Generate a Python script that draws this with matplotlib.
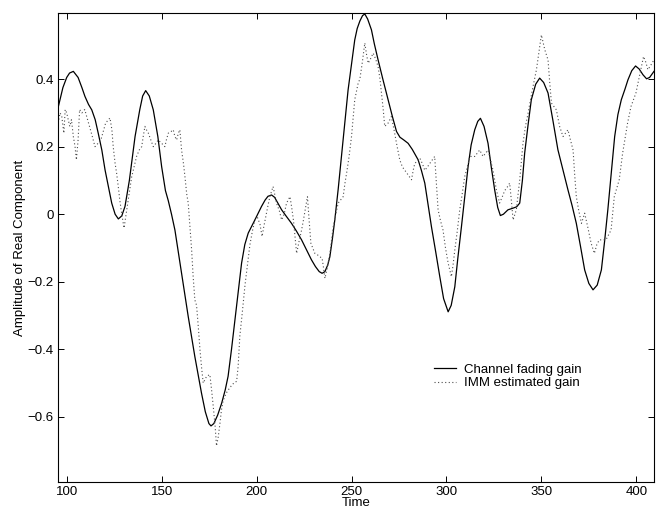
import numpy as np
import matplotlib
matplotlib.use('Agg')
import matplotlib.pyplot as plt

plt.rcParams['font.family'] = ['Liberation Sans', 'DejaVu Sans']
plt.rcParams['font.size'] = 9.5

## channel fading gain (solid)
t_true = [95.4, 98, 100, 101.5, 103.5, 106, 108, 109.6, 111.5, 113.2, 115, 116.6, 118.5,
          120.2, 122, 123.7, 125.5, 127.2, 129, 130.7, 133, 136, 138.5, 140, 141.6, 143.5,
          145.6, 148, 150, 152, 153.5, 155.2, 157, 160.5, 164, 167.5, 171, 173, 174.9, 176,
          177.5, 179.5, 181.6, 183.5, 185, 186.8, 188.6, 190.3, 192.1, 193.8, 195.6, 197.5,
          199.1, 201, 202.6, 204.5, 206, 207.9, 209.5, 211, 213.2, 215.5, 218.4, 221, 223.7,
          226.5, 228.9, 231, 233, 234.5, 236, 237.5, 238.6, 240, 241.2, 243, 244.7, 246.5,
          248.2, 250, 251.7, 253, 254.4, 255.8, 257, 258.5, 260.5, 262, 264, 266.5, 269.3,
          271.5, 273.7, 275.5, 277.5, 279.8, 282, 285.1, 286.8, 288.6, 290.3, 292.1, 294.3,
          296.5, 298.5, 300.9, 302.5, 304.4, 306, 307.9, 309.6, 311.4, 313, 314.9, 316.5,
          317.9, 319.8, 321.9, 323.6, 325.4, 327, 328.4, 330, 332.4, 335.1, 337, 338.6, 340,
          341.2, 343, 344.7, 347, 349.1, 351.2, 353.5, 356, 358.7, 361.4, 364, 366.2, 368.4,
          370.6, 372.8, 375, 377.2, 379.4, 381.6, 383.3, 385, 386.8, 388.6, 390.3, 392.1, 394,
          395.6, 397.6, 399.6, 401.5, 403.5, 405.4, 407, 409.3]
v_true = [0.314, 0.375, 0.405, 0.418, 0.423, 0.405, 0.375, 0.349, 0.325, 0.309, 0.28, 0.24, 0.19,
          0.131, 0.08, 0.033, 0.0, -0.014, -0.005, 0.023, 0.10, 0.23, 0.31, 0.35, 0.366, 0.35,
          0.309, 0.23, 0.141, 0.07, 0.04, 0.0, -0.047, -0.175, -0.303, -0.422, -0.53, -0.585, -0.62, -0.627,
          -0.62, -0.595, -0.56, -0.52, -0.48, -0.40, -0.313, -0.23, -0.145, -0.09, -0.056, -0.035,
          -0.017, 0.005, 0.023, 0.042, 0.053, 0.057, 0.05, 0.035, 0.013, -0.005, -0.027, -0.05, -0.076,
          -0.108, -0.135, -0.155, -0.17, -0.175, -0.17, -0.15, -0.126, -0.07, -0.017, 0.075, 0.171, 0.27,
          0.368, 0.445, 0.516, 0.55, 0.572, 0.588, 0.593, 0.578, 0.546, 0.505, 0.457, 0.40, 0.339,
          0.29, 0.245, 0.228, 0.22, 0.21, 0.192, 0.161, 0.13, 0.092, 0.03, -0.037, -0.11,
          -0.185, -0.25, -0.289, -0.27, -0.215, -0.13, -0.037, 0.05, 0.141, 0.205, 0.25, 0.275,
          0.284, 0.26, 0.21, 0.14, 0.072, 0.02, -0.004, 0.0, 0.013, 0.018, 0.022, 0.033, 0.10,
          0.181, 0.265, 0.339, 0.385, 0.403, 0.39, 0.359, 0.28, 0.191, 0.13, 0.072, 0.025, -0.027,
          -0.095, -0.165, -0.205, -0.224, -0.21, -0.165, -0.08, 0.013, 0.12, 0.23, 0.295, 0.339, 0.37,
          0.398, 0.425, 0.439, 0.43, 0.413, 0.401, 0.405, 0.423]

## IMM estimated gain (dotted)
t_est = [95.5, 96.5, 97.4, 98.5, 99.2, 100, 101.6, 102.5, 103.5, 104.4, 105.1, 106, 106.8, 108,
         109.5, 110.5, 112, 113.5, 114.9, 116.5, 118, 119.5, 120.5, 122, 122.8, 123.8, 124.5,
         125.5, 126.3, 127.2, 128, 129, 130.2, 131.3, 132.4, 134.2, 135.5, 136.8, 138.2, 139.5,
         140.3, 141.2, 142, 143, 144.3, 145.6, 147, 148.2, 150, 151.7, 152.5, 153.5, 155, 156.1,
         157, 157.9, 158.8, 159.6, 160.5, 161.5, 162.3, 163.2, 164, 164.9, 165.8, 166.6, 167.5,
         168.4, 169.3, 170.2, 171, 171.9, 173.7, 175.4, 176.3, 177.2, 178.2, 178.9, 179.8, 180.7,
         181.5, 182.4, 184, 186, 188, 189.5, 190.3, 191.2, 192.5, 193.9, 195.2, 196.5, 197.8,
         199.1, 200.5, 201.8, 202.9, 203.7, 204.5, 205.8, 207, 208.7, 209.5, 210.5, 212, 213.2,
         214.5, 215.8, 217.6, 218.5, 219.4, 220.3, 221.1, 222.4, 223.7, 224.6, 225.6, 226.8,
         227.7, 228.6, 230.7, 232, 233.3, 234.5, 235.3, 236, 237.2, 238.5, 240.4, 241.7, 243,
         245.6, 246.5, 247.4, 248.7, 250, 250.8, 251.7, 253.5, 254.4, 255.7, 257, 258, 258.8,
         260, 261.4, 262.7, 264, 265, 265.8, 266.7, 267.5, 269.3, 271, 272.4, 273.7, 275.4,
         276.8, 278.1, 280, 281.6, 282.5, 283.3, 286, 287.3, 288.6, 290, 291.2, 293.8, 294.7,
         295.6, 296.9, 298.2, 299.5, 300.9, 302.6, 303.5, 304.4, 305.7, 307, 308.3, 309.6, 311,
         312.3, 314.9, 317.5, 319.3, 321.9, 323.2, 324.5, 326.3, 328, 329.3, 330.7, 332, 333.3,
         334.2, 335.1, 336.8, 338.6, 340.3, 341.6, 343, 344.3, 345.6, 347.4, 348.7, 350, 351.8,
         353.5, 354.4, 355.3, 357.9, 359.6, 361.4, 364, 365.3, 366.7, 367.5, 368.4, 369.7, 371.1,
         372.8, 374.5, 376.2, 377.9, 379.2, 380.5, 384, 386.7, 388.4, 391, 392.8, 395.4, 397.2,
         399.8, 401.6, 403.8, 405, 406.1, 407.5, 409.3]
v_est = [0.27, 0.30, 0.29, 0.24, 0.31, 0.30, 0.26, 0.28, 0.23, 0.20, 0.161, 0.22, 0.31, 0.30,
         0.31, 0.29, 0.26, 0.23, 0.20, 0.21, 0.22, 0.25, 0.27, 0.28, 0.285, 0.25, 0.20,
         0.15, 0.121, 0.08, 0.04, 0.0, -0.041, 0.0, 0.04, 0.11, 0.14, 0.171, 0.19, 0.20,
         0.23, 0.26, 0.25, 0.24, 0.22, 0.20, 0.21, 0.22, 0.21, 0.20, 0.22, 0.24, 0.245, 0.25,
         0.23, 0.22, 0.24, 0.25, 0.19, 0.15, 0.11, 0.06, 0.033, -0.037, -0.106, -0.185, -0.254,
         -0.27, -0.333, -0.402, -0.452, -0.50, -0.48, -0.475, -0.52, -0.57, -0.63, -0.686, -0.66, -0.62,
         -0.58, -0.552, -0.53, -0.513, -0.50, -0.495, -0.45, -0.36, -0.29, -0.21, -0.15, -0.09, -0.05,
         -0.017, -0.01, -0.03, -0.066, -0.04, -0.017, 0.02, 0.052, 0.082, 0.06, 0.033, 0.01, -0.017,
         0.0, 0.033, 0.052, 0.02, -0.017, -0.07, -0.116, -0.08, -0.047, -0.02, 0.013, 0.052,
         -0.02, -0.086, -0.116, -0.12, -0.126, -0.13, -0.16, -0.19, -0.16, -0.12, -0.037, 0.0, 0.033,
         0.052, 0.09, 0.121, 0.17, 0.23, 0.28, 0.339, 0.388, 0.40, 0.45, 0.507, 0.47, 0.447,
         0.46, 0.477, 0.46, 0.437, 0.40, 0.359, 0.31, 0.26, 0.27, 0.289, 0.25, 0.21, 0.161,
         0.14, 0.13, 0.115, 0.102, 0.13, 0.15, 0.166, 0.15, 0.13, 0.14, 0.15, 0.171, 0.09,
         0.013, -0.02, -0.047, -0.10, -0.145, -0.185, -0.15, -0.106, -0.05, 0.013, 0.06, 0.111, 0.14,
         0.171, 0.171, 0.19, 0.171, 0.19, 0.16, 0.131, 0.072, 0.033, 0.05, 0.07, 0.08, 0.092,
         0.04, -0.017, 0.013, 0.102, 0.21, 0.26, 0.299, 0.34, 0.378, 0.428, 0.48, 0.531, 0.487,
         0.457, 0.39, 0.329, 0.309, 0.26, 0.23, 0.25, 0.22, 0.19, 0.12, 0.052, 0.01, -0.027,
         0.003, -0.04, -0.086, -0.116, -0.09, -0.076, -0.076, -0.047, 0.052, 0.102, 0.181, 0.27, 0.319,
         0.359, 0.408, 0.467, 0.45, 0.428, 0.44, 0.457]

fig = plt.figure(figsize=(6.64, 5.14), dpi=100)
ax = fig.add_axes([0.0873, 0.0623, 0.8976, 0.9125])

ax.plot(t_true, v_true, color='black', linewidth=0.9, label='Channel fading gain')
ax.plot(t_est, v_est, color='0.3', linewidth=0.8, linestyle=(0, (1, 2.2)),
        label='IMM estimated gain')

ax.set_xlim(95.4, 409.3)
ax.set_ylim(-0.793, 0.596)
ax.set_xticks([100, 150, 200, 250, 300, 350, 400])
ax.set_yticks([-0.6, -0.4, -0.2, 0, 0.2, 0.4])
ax.set_yticklabels(['\u22120.6', '\u22120.4', '\u22120.2', '0', '0.2', '0.4'])
ax.tick_params(direction='in', length=4, width=0.7, top=True, right=True, pad=3)
for s in ax.spines.values():
    s.set_linewidth(0.8)

ax.set_xlabel('Time', labelpad=-1)
ax.set_ylabel('Amplitude of Real Component', labelpad=1)

ax.legend(loc='center left', bbox_to_anchor=(0.653, 0.268), bbox_transform=fig.transFigure,
          frameon=False, borderpad=0, borderaxespad=0, handlelength=1.7, handletextpad=0.6,
          labelspacing=0.1)

fig.savefig('out.png', dpi=100)
